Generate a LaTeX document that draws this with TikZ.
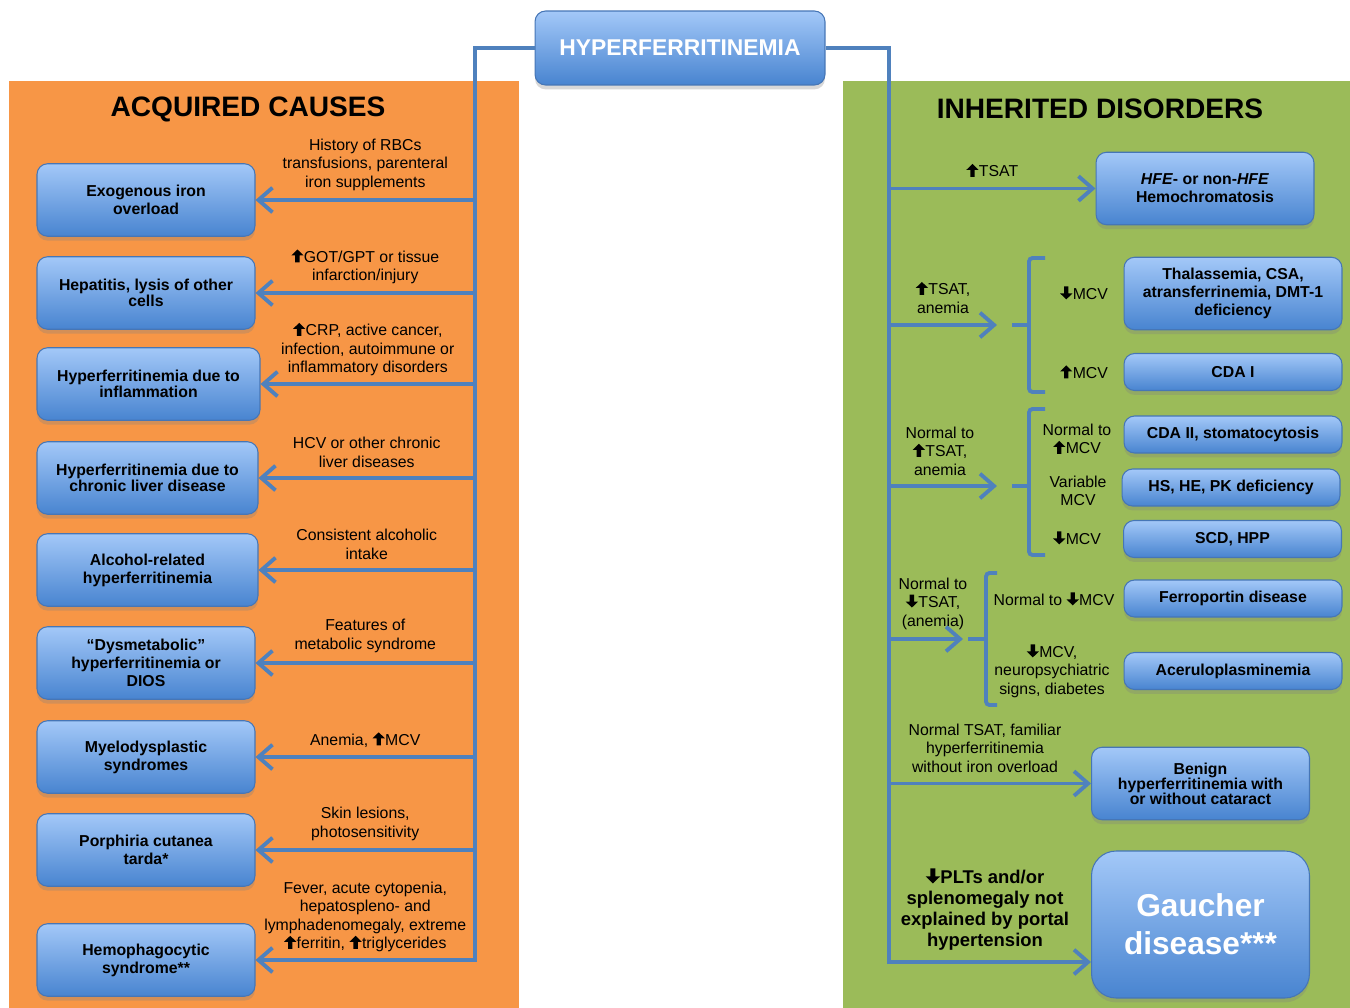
\documentclass[tikz,border=0pt]{standalone}
\usepackage{fontspec}
\setmainfont{Liberation Sans}
\usetikzlibrary{arrows.meta,shadows}

\definecolor{orangebg}{RGB}{247,150,70}
\definecolor{greenbg}{RGB}{155,187,89}
\definecolor{boxtop}{RGB}{163,200,248}
\definecolor{boxbot}{RGB}{72,132,208}
\definecolor{boxline}{RGB}{70,118,182}
\definecolor{linkcol}{RGB}{79,129,189}

% heavy up / down arrows used inside the labels
\newcommand\upar{\tikz[baseline=0pt,x=1em,y=1em]\fill (0.25,0) -- (0.25,0.44) -- (0.0,0.44) -- (0.39,0.82) -- (0.78,0.44) -- (0.53,0.44) -- (0.53,0) -- cycle;\kern0.02em}
\newcommand\dnar{\tikz[baseline=0pt,x=1em,y=1em]\fill (0.25,0.82) -- (0.25,0.38) -- (0.0,0.38) -- (0.39,0) -- (0.78,0.38) -- (0.53,0.38) -- (0.53,0.82) -- cycle;\kern0.02em}

\begin{document}
\begin{tikzpicture}[x=0.02cm,y=-0.02cm,
    link/.style={draw=linkcol,line width=2.2pt},
    arr/.style={link,-{Straight Barb[length=8pt,width=14pt]}},
    box/.style={rounded corners=6pt,draw=boxline,line width=0.6pt,
      top color=boxtop,bottom color=boxbot,
      drop shadow={shadow xshift=0pt,shadow yshift=-2.5pt,opacity=0.3},
      align=center,inner sep=2pt,font=\bfseries\fontsize{9}{10.2}\selectfont},
    tight/.style={font=\bfseries\fontsize{9}{8}\selectfont},
    cause/.style={box,minimum width=4.36cm,minimum height=1.45cm},
    disorder/.style={box,minimum width=4.36cm,minimum height=0.74cm},
    note/.style={align=center,font=\fontsize{9}{10.5}\selectfont},
    title/.style={font=\bfseries\fontsize{16}{18}\selectfont}]

  % panels
  \fill[white] (0,0) rectangle (1350,1008);
  \fill[orangebg] (9,81) rectangle (519,1008);
  \fill[greenbg] (843,81) rectangle (1350,1008);

  \node[title] (acq) at (248,109) {ACQUIRED CAUSES};
  \node[title] (inh) at (1100,109) {INHERITED DISORDERS};

  \node[box,minimum width=5.8cm,minimum height=1.48cm,text=white,
    font=\bfseries\fontsize{13}{15}\selectfont] (root) at (680,48) {HYPERFERRITINEMIA};

  % acquired causes
  \node[cause] (exo) at (146,200) {Exogenous iron\\overload};
  \node[cause,tight] (hep) at (146,293) {Hepatitis, lysis of other\\cells};
  \node[cause,tight,minimum width=4.46cm] (infl) at (148.5,384) {Hyperferritinemia due to\\inflammation};
  \node[cause,tight,minimum width=4.42cm] (liver) at (147.5,478) {Hyperferritinemia due to\\chronic liver disease};
  \node[cause,minimum width=4.42cm] (alc) at (147.5,570) {Alcohol-related\\hyperferritinemia};
  \node[cause] (dys) at (146,663) {``Dysmetabolic''\\hyperferritinemia or\\DIOS};
  \node[cause] (mye) at (146,757) {Myelodysplastic\\syndromes};
  \node[cause] (por) at (146,850) {Porphiria cutanea\\tarda*};
  \node[cause] (hemo) at (146,960) {Hemophagocytic\\syndrome**};

  \coordinate (trunkL) at (475,960);
  \draw[arr] (root.west) -| (trunkL) -- node[note,above=1pt]{Fever, acute cytopenia,\\hepatospleno- and\\lymphadenomegaly, extreme\\\upar ferritin, \upar triglycerides} (hemo.east);
  \draw[arr] (exo.east -| trunkL) -- node[note,above=1pt]{History of RBCs\\transfusions, parenteral\\iron supplements} (exo.east);
  \draw[arr] (hep.east -| trunkL) -- node[note,above=1.5pt]{\upar GOT/GPT or tissue\\infarction/injury} (hep.east);
  \draw[arr] (infl.east -| trunkL) -- node[note,above=1pt]{\upar CRP, active cancer,\\infection, autoimmune or\\inflammatory disorders} (infl.east);
  \draw[arr] (liver.east -| trunkL) -- node[note,above=1.5pt]{HCV or other chronic\\liver diseases} (liver.east);
  \draw[arr] (alc.east -| trunkL) -- node[note,above=1.5pt]{Consistent alcoholic\\intake} (alc.east);
  \draw[arr] (dys.east -| trunkL) -- node[note,above=1.5pt]{Features of\\metabolic syndrome} (dys.east);
  \draw[arr] (mye.east -| trunkL) -- node[note,above=2pt]{Anemia, \upar MCV} (mye.east);
  \draw[arr] (por.east -| trunkL) -- node[note,above=1pt]{Skin lesions,\\photosensitivity} (por.east);

  % inherited disorders
  \node[cause] (hfe) at (1205,188.5) {\textit{HFE}- or non-\textit{HFE}\\Hemochromatosis};
  \node[cause] (thal) at (1233,293.5) {Thalassemia, CSA,\\atransferrinemia, DMT-1\\deficiency};
  \node[disorder] (cda1) at (1233,372) {CDA I};
  \node[disorder] (cda2) at (1233,434.5) {CDA II, stomatocytosis};
  \node[disorder] (hs) at (1231,487.5) {HS, HE, PK deficiency};
  \node[disorder] (scd) at (1232.5,539) {SCD, HPP};
  \node[disorder] (ferro) at (1233,598.5) {Ferroportin disease};
  \node[disorder] (acer) at (1233,671) {Aceruloplasminemia};
  \node[cause,font=\bfseries\fontsize{9}{8.6}\selectfont] (benign) at (1200.5,783.5) {Benign\\hyperferritinemia with\\or without cataract};
  \node[cause,minimum height=2.94cm,rounded corners=14pt,text=white,
    font=\bfseries\fontsize{18}{21.5}\selectfont] (gaucher) at (1200.5,924.5) {Gaucher\\disease***};

  \coordinate (trunkR) at (889,962);
  \coordinate (br1) at (997,325);
  \coordinate (br2) at (997,486);
  \coordinate (br3) at (963,639);

  \draw[arr] (root.east) -| (trunkR) -- node[above=3pt,xshift=-0.1cm,align=center,font=\bfseries\fontsize{10.5}{12}\selectfont]{\dnar PLTs and/or\\splenomegaly not\\explained by portal\\hypertension} (trunkR -| gaucher.west);
  \draw[arr] (hfe.west -| trunkR) -- node[note,above=3pt]{\upar TSAT} (hfe.west);
  \draw[arr] (br1 -| trunkR) -- node[note,above=3pt]{\upar TSAT,\\anemia} (br1);
  \draw[arr] (br2 -| trunkR) -- node[note,above=2.5pt,xshift=-0.06cm]{Normal to\\\upar TSAT,\\anemia} (br2);
  \draw[arr] (br3 -| trunkR) -- node[note,above=2pt,xshift=0.14cm]{Normal to\\\dnar TSAT,\\(anemia)} (br3);
  \draw[arr] (benign.west -| trunkR) -- node[note,above=2pt,xshift=-0.1cm]{Normal TSAT, familiar\\hyperferritinemia\\without iron overload} (benign.west);

  % brackets
  \draw[link,rounded corners=2pt] (1045,258) -- (1029,258) -- (1029,392) -- (1045,392);
  \draw[link] (1012,325) -- (1029,325);
  \draw[link,rounded corners=2pt] (1045,409) -- (1029,409) -- (1029,555) -- (1045,555);
  \draw[link] (1012,486) -- (1029,486);
  \draw[link,rounded corners=2pt] (997,573) -- (986,573) -- (986,705) -- (997,705);
  \draw[link] (968,639) -- (986,639);

  \node[note] (m1) at (1084,293) {\dnar MCV};
  \node[note] (m2) at (1084,372) {\upar MCV};
  \node[note] (m3) at (1077,439) {Normal to\\\upar MCV};
  \node[note] (m4) at (1078,491) {Variable\\MCV};
  \node[note] (m5) at (1077,538) {\dnar MCV};
  \node[note] (m6) at (1054,599) {Normal to \dnar MCV};
  \node[note] (m7) at (1052,671) {\dnar MCV,\\neuropsychiatric\\signs, diabetes};
\end{tikzpicture}
\end{document}
